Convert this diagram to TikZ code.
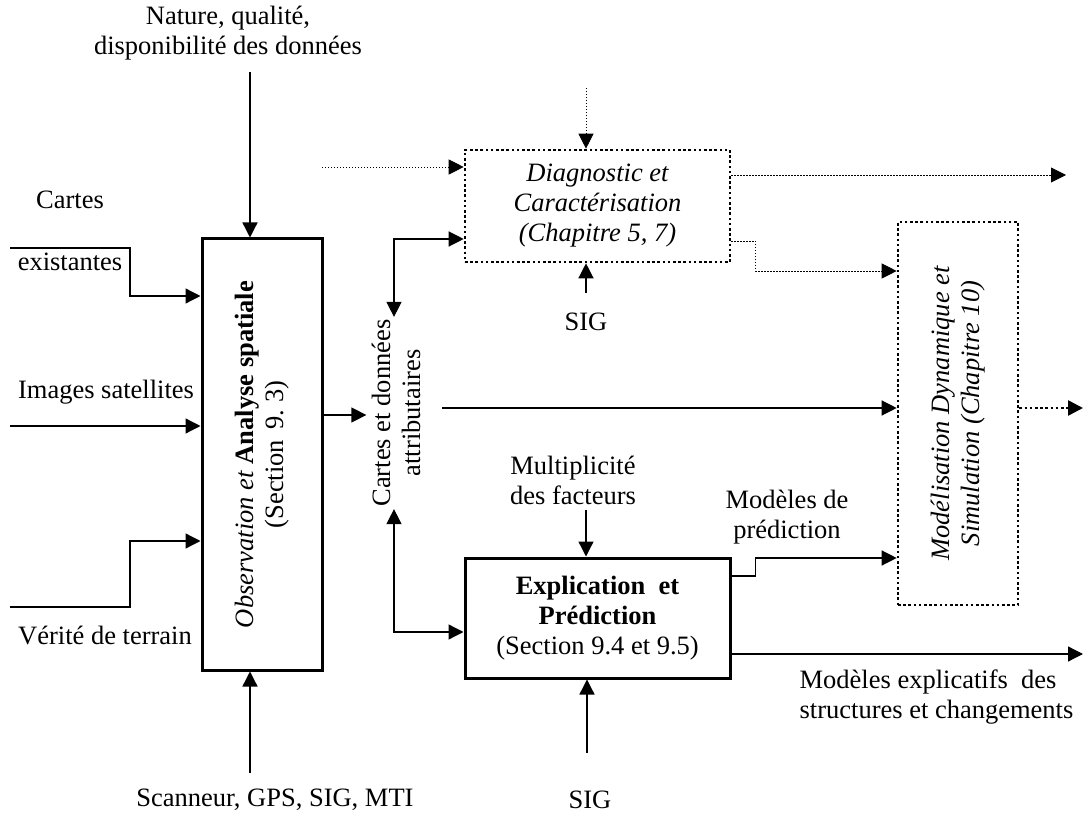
\documentclass[tikz,border=0pt]{standalone}
\usepackage{fontspec}
\setmainfont{Liberation Serif}
\usetikzlibrary{positioning,arrows.meta}
\tikzset{
	block/.style 2 args={%
		draw, line width=1.5pt,
		minimum width=#1,
		minimum height=#2,
		align=center, inner sep=0pt
	},
	dotblock/.style 2 args={%
		block={#1}{#2},
		dash pattern=on 1.3pt off 1.3pt, line width=1.3pt
	},
	lbl/.style={align=center, inner sep=1pt},
	thindot/.style={line width=0.45pt, dash pattern=on 0.6pt off 0.9pt},
	thickdot/.style={line width=1.3pt, dash pattern=on 1.3pt off 1.3pt},
	>={Triangle[length=7.5pt,width=7.5pt]}
}

\begin{document}
\begin{tikzpicture}[x=0.5pt,y=-0.5pt,
		font=\fontsize{13.25}{15}\selectfont,
		line width=0.65pt]
		\useasboundingbox (0,0) rectangle (1084,813);
		
		% main boxes
		\node[block={60pt}{215.5pt}] (obs) at (262,454.5) {\rotatebox{90}{\begin{tabular}{@{}c@{}}\textit{Observation et} \textbf{Analyse spatiale}\\(Section\hspace{0.4em}9.\ 3)\end{tabular}}};
		\node[dotblock={132.5pt}{56pt}] (diag) at (597.5,206) {\itshape Diagnostic et\\\itshape Caract\'erisation\\\itshape (Chapitre 5, 7)};
		\node[block={132.5pt}{60pt}] (expl) at (597.5,618) {\textbf{Explication\ \ et}\\\textbf{Pr\'ediction}\\(Section 9.4 et 9.5)};
		\node[dotblock={60pt}{191.5pt}] (model) at (958,413.5) {\rotatebox{90}{\begin{tabular}{@{}c@{}}\itshape Mod\'elisation Dynamique et\\\itshape Simulation (Chapitre 10)\end{tabular}}};
		
		% labels
		\node[lbl] (nature) at (228,33) {Nature, qualit\'e,\\disponibilit\'e des donn\'ees};
		\node[lbl] (cartes) at (70,200) {Cartes};
		\node[lbl] (exist) at (70,262) {existantes};
		\node[lbl] (images) at (106,392) {Images satellites};
		\node[lbl] (verite) at (105,635) {V\'erit\'e de terrain};
		\node[lbl] (scan) at (275,800) {Scanneur, GPS, SIG, MTI};
		\node[lbl] (cda) at (399,413) {\rotatebox{90}{\begin{tabular}{@{}c@{}}Cartes et donn\'ees\\attributaires\end{tabular}}};
		\node[lbl] (sigA) at (586,322) {SIG};
		\node[lbl] (mult) at (573,480) {Multiplicit\'e\\des facteurs};
		\node[lbl] (sigB) at (590,800) {SIG};
		\node[lbl] (mdp) at (787,517) {Mod\`eles de\\pr\'ediction};
		\node[lbl, align=left, anchor=west] (mexp) at (797,697) {Mod\`eles explicatifs\ \ des\\structures et changements};
		
		% free ends
		\coordinate (natIn) at (250,72);
		\coordinate (cartIn) at (10,248);
		\coordinate (imgIn) at (10,426);
		\coordinate (verIn) at (10,607);
		\coordinate (scanIn) at (250,773);
		\coordinate (cdaOut) at (442,408);
		\coordinate (diagIn) at (322,167);
		\coordinate (diagTop) at (586,88);
		\coordinate (diagOut) at (1066,175);
		\coordinate (modOut) at (1083,408);
		\coordinate (multIn) at (586,510);
		\coordinate (explOut) at (1083,654);
		\coordinate (sigBIn) at (587,753);
		
		% inputs of the observation box
		\draw[->] (natIn) -- (natIn |- obs.north);
		\draw[->] (cartIn) -- ++(120,0) |- (obs.west |- 0,296);
		\draw[->] (imgIn) -- (imgIn -| obs.west);
		\draw[->] (verIn) -- ++(120,0) |- (obs.west |- 0,541);
		\draw[->] (scanIn) -- (scanIn |- obs.south);
		
		% maps and attributes
		\draw[->] (obs.east |- 0,415) -- (cda.west |- 0,415);
		\draw[<->] ([xshift=-2.5pt]cda.north) |- (diag.west |- 0,239);
		\draw[<->] ([xshift=-2.5pt]cda.south) |- (expl.west |- 0,632);
		\draw[->] (cdaOut) -- (cdaOut -| model.west);
		
		% diagnostic
		\draw[->,thindot] (diagIn) -- (diagIn -| diag.west);
		\draw[->,thindot] (diagTop) -- (diagTop |- diag.north);
		\draw[->] (sigA) ++(0,-29) -- (sigA |- diag.south);
		\draw[->,thindot] (diag.east |- 0,175) -- (diagOut);
		\draw[->,thindot] (diag.east |- 0,241) -- ++(24,0) |- (model.west |- 0,271);
		
		% explication
		\draw[->] (multIn) -- (multIn |- expl.north);
		\draw[->] (sigBIn) -- (sigBIn |- expl.south);
		\draw[->] (expl.east |- 0,576) -- ++(24,0) |- (model.west |- 0,558);
		\draw[->] (expl.east |- 0,654) -- (explOut);
		
		% simulation output
		\draw[->,thickdot] (model.east |- 0,408) -- (modOut);
		
\end{tikzpicture}
\end{document}
